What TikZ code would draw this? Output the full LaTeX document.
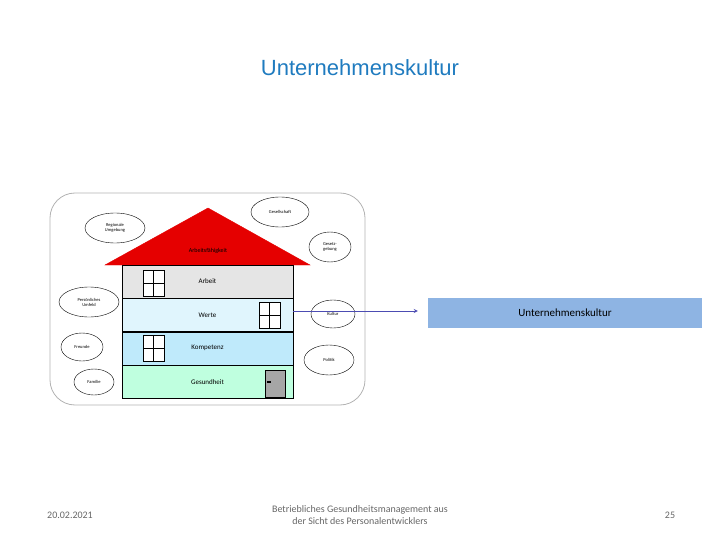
\documentclass[tikz,border=0pt]{standalone}
\usepackage{fontspec}
\setmainfont{Carlito}
\newfontfamily\titlefont{Liberation Sans}
\usetikzlibrary{shapes,positioning}
\definecolor{titleblue}{HTML}{1F7BBF}
\definecolor{boxblue}{HTML}{8EB4E3}
\tikzstyle{bubble}=[draw,ellipse,fill=white,inner sep=0pt,align=center,
  font=\fontsize{4.5}{5}\selectfont]
\tikzstyle{floor}=[draw,minimum width=171pt,minimum height=33pt,inner sep=0pt,
  font=\fontsize{7}{8}\selectfont]
\tikzstyle{window}=[draw,thick,fill=white,minimum width=21pt,minimum height=26pt,inner sep=0pt,
  path picture={\draw[thick] (path picture bounding box.north) -- (path picture bounding box.south)
  (path picture bounding box.west) -- (path picture bounding box.east);}]
\tikzstyle{foot}=[text=gray!80!black,font=\fontsize{10}{12}\selectfont,align=center]

\begin{document}
\begin{tikzpicture}[x=1pt,y=-1pt,>=stealth]
  \useasboundingbox (0,0) rectangle (720,540);

  \node[text=titleblue,font=\titlefont\fontsize{22}{26}\selectfont] (title) at (360,68) {Unternehmenskultur};

  \draw[gray!60,thick,rounded corners=25pt] (50,193) rectangle (365,405);

  % roof and floors
  \draw[fill=red!90!black,draw=red!90!black] (105,265) -- (208,208) -- (310,265) -- cycle;
  \node[font=\fontsize{6}{7}\selectfont] (roof) at (208,251) {Arbeitsfähigkeit};
  \node[floor,fill=gray!20] (arbeit) at (207.5,281.5) {Arbeit};
  \node[floor,fill=cyan!12,below=0pt of arbeit] (werte) {Werte};
  \node[floor,fill=cyan!25,below=0pt of werte] (kompetenz) {Kompetenz};
  \node[floor,fill=green!50!cyan!25,below=0pt of kompetenz] (gesundheit) {Gesundheit};

  \node[window] (w1) at (153.5,283) {};
  \node[window] (w2) at (269.5,315) {};
  \node[window] (w3) at (153.5,348) {};
  \node[draw,fill=gray!70,minimum width=20pt,minimum height=27pt,inner sep=0pt] (door) at (275,383.5) {};
  \fill (267,381) rectangle (271,383);

  % surrounding factors
  \node[bubble,minimum width=60pt,minimum height=30pt] (region) at (115,228) {Regionale\\Umgebung};
  \node[bubble,minimum width=58pt,minimum height=30pt] (gesell) at (280,212) {Gesellschaft};
  \node[bubble,minimum width=42pt,minimum height=30pt] (gesetz) at (330,247) {Gesetz-\\gebung};
  \node[bubble,minimum width=60pt,minimum height=30pt] (umfeld) at (89,302) {Persönliches\\Umfeld};
  \node[bubble,minimum width=42pt,minimum height=28pt] (freunde) at (82,347) {Freunde};
  \node[bubble,minimum width=40pt,minimum height=26pt] (familie) at (94,382) {Familie};
  \node[bubble,minimum width=44pt,minimum height=28pt] (kultur) at (333,314) {Kultur};
  \node[bubble,minimum width=50pt,minimum height=30pt] (politik) at (329,360) {Politik};

  \node[fill=boxblue,minimum width=274pt,minimum height=30pt,inner sep=0pt,
    font=\fontsize{11}{13}\selectfont] (box) at (565,313) {Unternehmenskultur};
  \coordinate (start) at (293,311);
  \draw[->,thick,blue!40!gray] (start) -- ([xshift=-10pt]box.west |- start);

  \node[foot] (date) at (70,515) {20.02.2021};
  \node[foot] (topic) at (360,515) {Betriebliches Gesundheitsmanagement aus\\der Sicht des Personalentwicklers};
  \node[foot] (page) at (670,515) {25};
\end{tikzpicture}
\end{document}
